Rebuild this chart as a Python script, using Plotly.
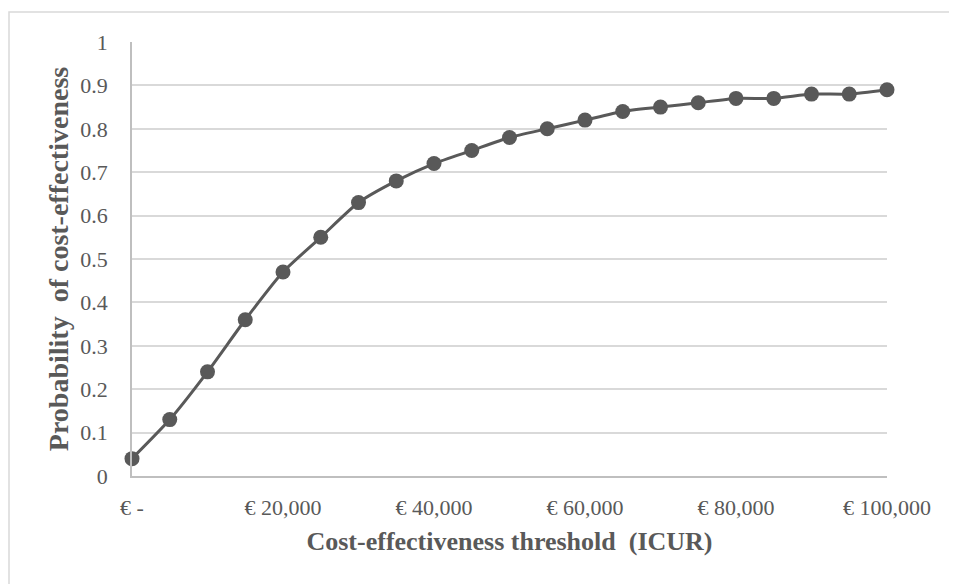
import plotly.graph_objects as go

thresholds = [0, 5000, 10000, 15000, 20000, 25000, 30000, 35000, 40000, 45000, 50000,
              55000, 60000, 65000, 70000, 75000, 80000, 85000, 90000, 95000, 100000]
probability = [0.04, 0.13, 0.24, 0.36, 0.47, 0.55, 0.63, 0.68, 0.72, 0.75, 0.78,
               0.80, 0.82, 0.84, 0.85, 0.86, 0.87, 0.87, 0.88, 0.88, 0.89]
x_tickvals = [0, 20000, 40000, 60000, 80000, 100000]
x_ticktext = ["€ -", "€ 20,000", "€ 40,000", "€ 60,000", "€ 80,000", "€ 100,000"]
y_tickvals = [0, 0.1, 0.2, 0.3, 0.4, 0.5, 0.6, 0.7, 0.8, 0.9, 1]
y_ticktext = ["0", "0.1", "0.2", "0.3", "0.4", "0.5", "0.6", "0.7", "0.8", "0.9", "1"]

OFF = 8  # page body margin
W, H = 957 - OFF, 584 - OFF
L, R, T, B = 132 - OFF, 887 - OFF, 42 - OFF, 476 - OFF

fig = go.Figure()
fig.add_trace(go.Scatter(
    x=thresholds, y=probability, mode="lines+markers",
    line=dict(color="#595959", width=3, shape="spline", smoothing=0.6),
    marker=dict(color="#595959", size=15),
    showlegend=False, cliponaxis=False,
))

font_family = "Liberation Serif, Times New Roman, serif"
fig.update_layout(
    width=W, height=H,
    margin=dict(l=L, r=W - R, t=T, b=H - B),
    paper_bgcolor="white", plot_bgcolor="white",
    font=dict(family=font_family, color="#595959", size=22),
    xaxis=dict(
        range=[0, 100000], tickvals=x_tickvals, ticktext=x_ticktext,
        showgrid=False, zeroline=False, showline=True, linecolor="#bfbfbf", linewidth=1.5,
        ticks="", ticklabelstandoff=11,
        title=dict(text="<b>Cost-effectiveness threshold\u00a0 (ICUR)</b>", font=dict(size=26, color="#595959"), standoff=13),
    ),
    yaxis=dict(
        range=[0, 1], tickvals=y_tickvals, ticktext=y_ticktext,
        showgrid=True, gridcolor="#d9d9d9", gridwidth=1.5, zeroline=False,
        showline=True, linecolor="#bfbfbf", linewidth=1.5, ticks="", ticklabelstandoff=18,
        title=dict(text="<b>Probability\u00a0 of cost-effectiveness</b>", font=dict(size=28, color="#595959"), standoff=4),
    ),
)

# outer chart border (clipped at right/bottom as in the reference)
pw, ph = R - L, B - T
fig.add_shape(type="rect", xref="paper", yref="paper",
              x0=(9 - OFF - L) / pw, x1=(W + 5 - L) / pw,
              y0=(B - (H + 5)) / ph, y1=(B - (12 - OFF)) / ph,
              line=dict(color="#d9d9d9", width=1.5), layer="below")

fig.write_html("out.html")
